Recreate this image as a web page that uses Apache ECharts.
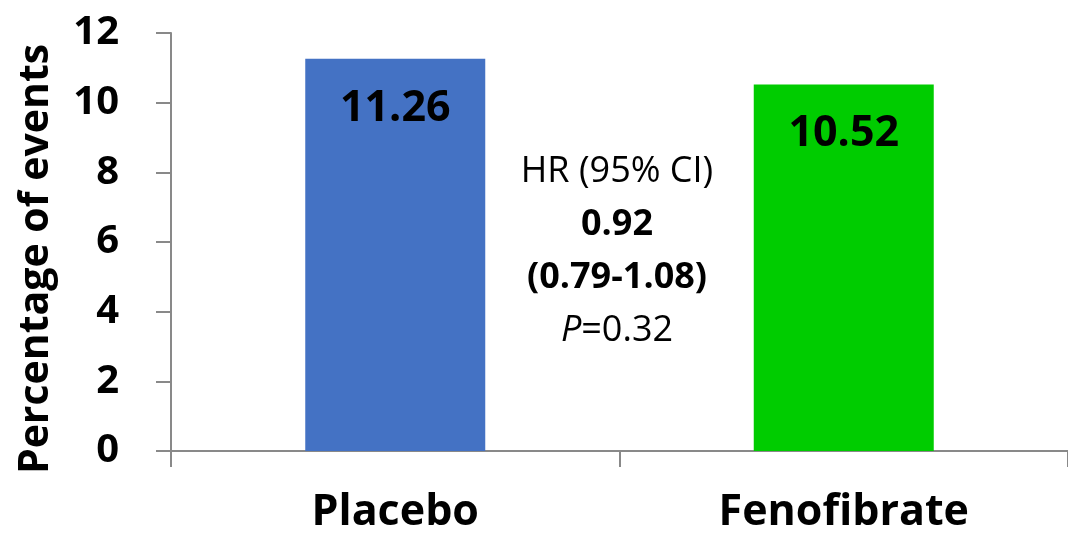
<!DOCTYPE html>
<html>
<head>
<meta charset="utf-8">
<script src="https://cdn.jsdelivr.net/npm/echarts@6/dist/echarts.min.js"></script>
<style>
  html, body { margin: 0; padding: 0; background: #fff; }
  #chart { width: 1068px; height: 534px; }
</style>
</head>
<body>
<div id="chart"></div>
<script>
// data
const categories = ['Placebo', 'Fenofibrate'];
const eventPct = [11.26, 10.52];
const barColors = ['#4472C4', '#00CC00'];
const yTicks = { min: 0, max: 12, step: 2 };
const hrLines = ['HR (95% CI)', '0.92', '(0.79-1.08)', '0.32'];

const FONT = '"Open Sans", sans-serif';
const axisGray = '#898989';

const chart = echarts.init(document.getElementById('chart'));

const option = {
  animation: false,
  backgroundColor: '#fff',
  grid: { left: 171, right: -9, top: 33, bottom: 83 },
  xAxis: {
    type: 'category',
    data: categories,
    axisLine: { lineStyle: { color: axisGray, width: 2 } },
    axisTick: { show: true, length: 16, lineStyle: { color: axisGray, width: 2 } },
    axisLabel: {
      margin: 40,
      color: '#000',
      fontFamily: FONT,
      fontWeight: 'bold',
      fontSize: 43
    }
  },
  yAxis: {
    type: 'value',
    min: yTicks.min,
    max: yTicks.max,
    interval: yTicks.step,
    splitLine: { show: false },
    axisLine: { show: true, lineStyle: { color: axisGray, width: 2 } },
    axisTick: { show: true, length: 15, lineStyle: { color: axisGray, width: 2 } },
    axisLabel: {
      margin: 52,
      color: '#000',
      fontFamily: FONT,
      fontWeight: 'bold',
      fontSize: 40
    }
  },
  series: [{
    type: 'bar',
    barWidth: 180,
    data: eventPct.map((v, i) => ({ value: v, itemStyle: { color: barColors[i] } })),
    label: {
      show: true,
      position: 'insideTop',
      distance: 28,
      color: '#000',
      fontFamily: FONT,
      fontWeight: 'bold',
      fontSize: 43,
      formatter: p => p.value.toFixed(2)
    }
  }],
  graphic: [
    {
      type: 'text',
      x: 36,
      y: 259,
      rotation: Math.PI / 2,
      style: {
        text: 'Percentage of events',
        fill: '#000',
        font: 'bold 41px ' + FONT,
        textAlign: 'center',
        textVerticalAlign: 'middle'
      }
    },
    {
      type: 'text',
      x: 617,
      y: 251,
      style: {
        text: '{n|' + hrLines[0] + '}\n{b|' + hrLines[1] + '}\n{b|' + hrLines[2] + '}\n{i|P}{n|=' + hrLines[3] + '}',
        textAlign: 'center',
        textVerticalAlign: 'middle',
        fill: '#000',
        rich: {
          n: { fontFamily: FONT, fontSize: 36, lineHeight: 53, fill: '#000' },
          b: { fontFamily: FONT, fontSize: 36, fontWeight: 'bold', lineHeight: 53, fill: '#000' },
          i: { fontFamily: FONT, fontSize: 36, fontStyle: 'italic', lineHeight: 53, fill: '#000' }
        }
      }
    }
  ]
};

chart.setOption(option);
</script>
</body>
</html>
